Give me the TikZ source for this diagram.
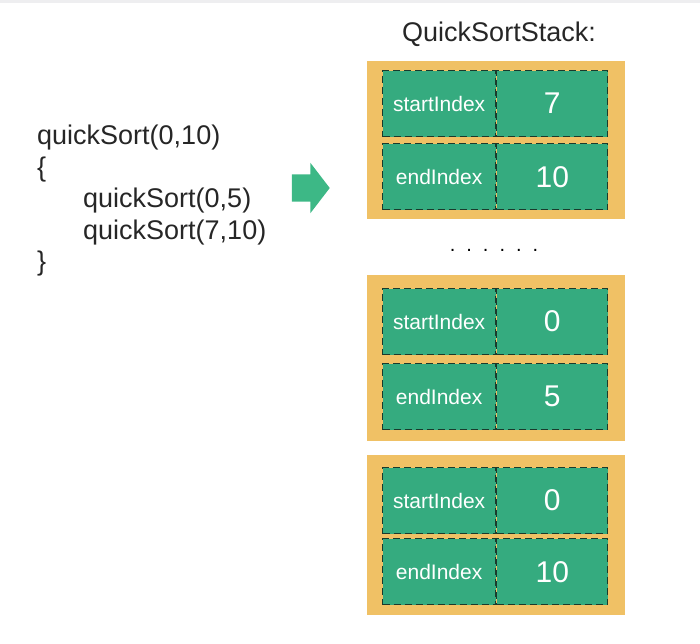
\documentclass[tikz,border=0pt]{standalone}
\usepackage{fontspec}
\setmainfont{Liberation Sans}
\usepackage{xcolor}
\usetikzlibrary{shapes,arrows,positioning}
\definecolor{stackyellow}{HTML}{F0C165}
\definecolor{cellgreen}{HTML}{35AB7F}
\definecolor{arrowgreen}{HTML}{3DB886}
\definecolor{celledge}{HTML}{1A3A2C}
\definecolor{topband}{HTML}{EEEEF0}
\tikzset{
  frame/.style={
    rectangle,
    fill=stackyellow,
    minimum width=258pt,
    minimum height=158pt,
    inner sep=0pt
  },
  namecell/.style={
    rectangle,
    draw=celledge,
    dash pattern=on 7pt off 4pt,
    line width=1.2pt,
    fill=cellgreen,
    minimum width=113pt,
    minimum height=66pt,
    inner sep=0pt,
    text=white,
    font=\fontsize{21}{24}\selectfont
  },
  valcell/.style={
    namecell,
    minimum width=111pt,
    font=\fontsize{30}{34}\selectfont
  },
  code/.style={
    align=left,
    inner sep=0pt,
    text=black!85,
    font=\fontsize{27}{31.5}\selectfont
  }
}

\begin{document}
\begin{tikzpicture}[x=1pt,y=-1pt]
\useasboundingbox (0,0) rectangle (700,643);
\fill[topband] (0,0) rectangle (700,3);

% call on the left
\node[code, anchor=north west] (code) at (37,125)
  {quickSort(0,10)\\\{\\\hspace*{46pt}quickSort(0,5)\\\hspace*{46pt}quickSort(7,10)\\\}};
\node[single arrow, fill=arrowgreen, inner sep=13.5pt, minimum height=37pt,
      single arrow head extend=11.5pt, single arrow tip angle=105] (go) at (305.5,188) {};

% the stack
\node[frame, anchor=north west] (f1) at (367,61) {};
\node[font=\fontsize{27}{30}\selectfont, text=black!85] (title) at (499,34) {QuickSortStack:};

\node[namecell, below right=9pt and 15pt of f1.north west] (s1) {startIndex};
\node[valcell, right=0pt of s1] (v1) {7};
\node[namecell, below=6pt of s1] (e1) {endIndex};
\node[valcell, right=0pt of e1] (w1) {10};

\node[font=\fontsize{20}{22}\selectfont] (dots) at (494,250)
  {.\hspace{11pt}.\hspace{11pt}.\hspace{11pt}.\hspace{11pt}.\hspace{11pt}.};

\node[frame, anchor=north west, minimum height=166pt] (f2) at (367,275) {};
\node[namecell, below right=13pt and 15pt of f2.north west] (s2) {startIndex};
\node[valcell, right=0pt of s2] (v2) {0};
\node[namecell, below=8pt of s2] (e2) {endIndex};
\node[valcell, right=0pt of e2] (w2) {5};

\node[frame, anchor=north west, minimum height=160pt] (f3) at (367,455) {};
\node[namecell, below right=12pt and 15pt of f3.north west] (s3) {startIndex};
\node[valcell, right=0pt of s3] (v3) {0};
\node[namecell, below=4pt of s3] (e3) {endIndex};
\node[valcell, right=0pt of e3] (w3) {10};

\end{tikzpicture}
\end{document}
